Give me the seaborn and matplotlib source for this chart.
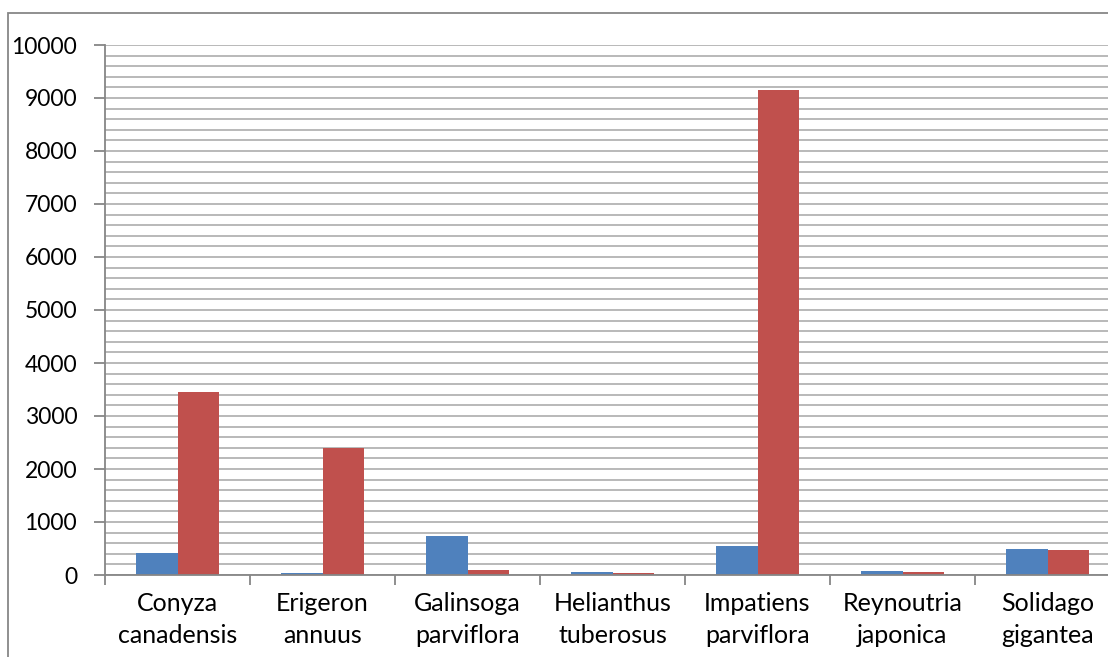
import matplotlib.pyplot as plt
import matplotlib.patches as mpatches
import seaborn as sns
import pandas as pd

# data
species = ["Conyza\ncanadensis", "Erigeron\nannuus", "Galinsoga\nparviflora",
           "Helianthus\ntuberosus", "Impatiens\nparviflora", "Reynoutria\njaponica",
           "Solidago\ngigantea"]
series_a = [420, 45, 740, 55, 550, 75, 490]
series_b = [3450, 2400, 95, 35, 9150, 55, 470]
series_names = ["A", "B"]
colors = ["#4F81BD", "#C0504D"]

df = pd.DataFrame({
    "species": species * 2,
    "value": series_a + series_b,
    "series": [series_names[0]] * len(species) + [series_names[1]] * len(species),
})

sns.set_style("white")
plt.rcParams["font.family"] = ["Lato", "DejaVu Sans"]

fig = plt.figure(figsize=(11.08, 6.57), dpi=100)
ax = fig.add_axes([105 / 1108, 82 / 657, 1015 / 1108, 530 / 657])

sns.barplot(data=df, x="species", y="value", hue="series", order=species,
            hue_order=series_names, palette=colors, saturation=1,
            width=0.573, dodge=True, legend=False, linewidth=0, ax=ax)

ax.set_xlabel("")
ax.set_ylabel("")
ax.set_ylim(0, 10000)
ax.set_xlim(-0.5, len(species) - 0.5)

# gridlines every 200, labels every 1000
ax.set_yticks(range(0, 10001, 1000))
ax.set_yticks(range(0, 10001, 200), minor=True)
ax.yaxis.grid(True, which="both", color="#b3b3b3", linewidth=1.3)
ax.set_axisbelow(True)
ax.tick_params(axis="y", which="major", length=8, width=1.3, color="#868686",
               labelsize=16.5, labelcolor="black", pad=12, direction="out", left=True)
ax.tick_params(axis="y", which="minor", length=0)

# tick marks between categories, labels at centres
ax.set_xticks([i - 0.5 for i in range(len(species) + 1)])
ax.set_xticklabels([])
ax.set_xticks(range(len(species)), minor=True)
ax.set_xticklabels(species, minor=True, fontsize=18, linespacing=1.5)
ax.tick_params(axis="x", which="major", length=7, width=1.3, color="#868686",
               direction="out", bottom=True)
ax.tick_params(axis="x", which="minor", length=0, pad=12, labelcolor="black")

for side in ["top", "right"]:
    ax.spines[side].set_visible(False)
for side in ["left", "bottom"]:
    ax.spines[side].set_color("#868686")
    ax.spines[side].set_linewidth(1.3)

# outer chart border
border = mpatches.Rectangle((8 / 1108, -0.1), 1.2, 0.1 + (657 - 13) / 657,
                            transform=fig.transFigure, fill=False,
                            edgecolor="#878787", linewidth=1.3, clip_on=False)
fig.patches.append(border)

fig.savefig("out.png", dpi=100)
